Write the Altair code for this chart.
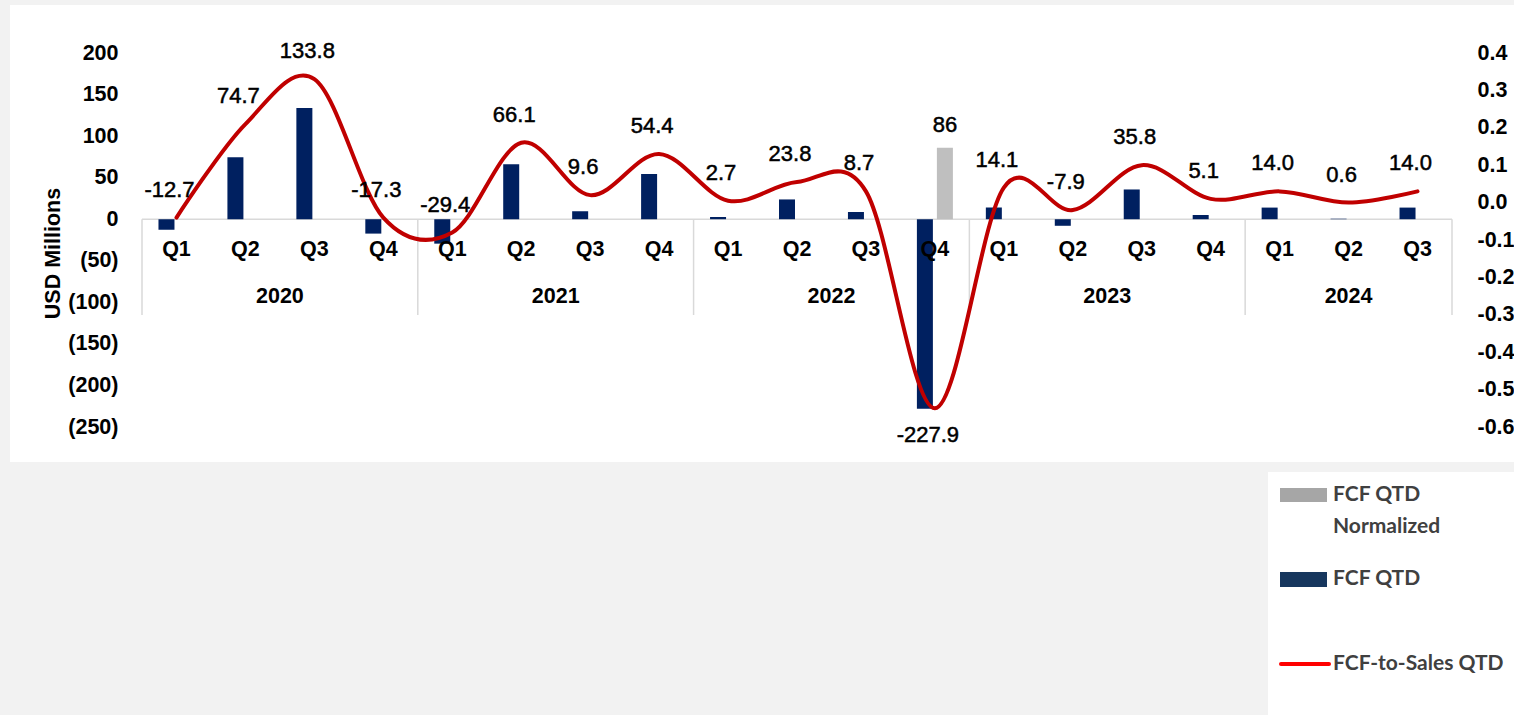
import altair as alt
import pandas as pd

# ---------------- data ----------------
years = ["2020"] * 4 + ["2021"] * 4 + ["2022"] * 4 + ["2023"] * 4 + ["2024"] * 3
quarters = ["Q1", "Q2", "Q3", "Q4"] * 4 + ["Q1", "Q2", "Q3"]
fcf_qtd = [-12.7, 74.7, 133.8, -17.3,
           -29.4, 66.1, 9.6, 54.4,
           2.7, 23.8, 8.7, -227.9,
           14.1, -7.9, 35.8, 5.1,
           14.0, 0.6, 14.0]
fcf_to_sales = [-0.04, 0.21, 0.33, -0.04,
                -0.08, 0.16, 0.02, 0.13,
                0.005, 0.055, 0.03, -0.55,
                0.04, -0.02, 0.10, 0.01,
                0.03, 0.0, 0.03]
normalized_year = "2022"
normalized_quarter = "Q4"
normalized_value = 86

left_ticks = [-250, -200, -150, -100, -50, 0, 50, 100, 150, 200]
right_ticks = [-0.6, -0.5, -0.4, -0.3, -0.2, -0.1, 0.0, 0.1, 0.2, 0.3, 0.4]

legend_labels = ["FCF QTD", "Normalized", "FCF QTD", "FCF-to-Sales QTD"]

# ---------------- tables ----------------
n = len(years)
df = pd.DataFrame({"year": years, "quarter": quarters, "fcf": fcf_qtd, "ratio": fcf_to_sales})
df["idx"] = list(range(n))
df["label"] = [f"{v:.1f}" for v in fcf_qtd]

norm_df = df[(df.year == normalized_year) & (df.quarter == normalized_quarter)][["idx"]].copy()
norm_df["value"] = normalized_value
norm_df["label"] = str(normalized_value)

bounds = [-0.5] + [i - 0.5 for i in range(1, n) if years[i] != years[i - 1]] + [n - 0.5]
bounds_df = pd.DataFrame({"b": bounds})
one = pd.DataFrame({"k": [0]})

FONT = "Liberation Sans"
LFONT = "Lato"
NAVY = "#002060"
GREY = "#bfbfbf"
RED = "#c00000"

xscale = alt.Scale(domain=[-0.5, n - 0.5], nice=False, zero=False, padding=0)
yscale = alt.Scale(domain=[-250, 200], nice=False, zero=False)
rscale = alt.Scale(domain=[-0.6, 0.4], nice=False, zero=False)

yaxis = alt.Axis(
    orient="left", values=left_ticks,
    labelExpr="datum.value < 0 ? '(' + abs(datum.value) + ')' : datum.value + '\u00a0'",
    domain=False, ticks=False, grid=False, labelPadding=24,
    labelFont=FONT, labelFontSize=21.5, labelFontWeight="bold", labelColor="black",
    labelOverlap=False,
    title="USD Millions", titleFont=FONT, titleFontSize=21.5, titleFontWeight="bold",
    titleColor="black", titleX=-89, titleY=200, titleBaseline="middle", titleAlign="center",
    zindex=1,
)
raxis = alt.Axis(
    orient="right", values=right_ticks,
    labelExpr="replace(format(datum.value, '.1f'), '\u2212', '-')",
    domain=False, ticks=False, grid=False, labelPadding=25,
    labelFont=FONT, labelFontSize=21.5, labelFontWeight="bold", labelColor="black",
    labelOverlap=False, title=None, zindex=1,
)

X = alt.X("idx:Q", scale=xscale, axis=None)
Y0 = alt.YDatum(0, scale=yscale, axis=yaxis)

label_style = dict(font=FONT, fontSize=22, fontWeight="normal", color="black",
                   stroke="black", strokeWidth=0.5)

# ---------------- left (USD) group ----------------
panel = alt.Chart(one).mark_rect(color="white").encode(
    x=alt.value(-132), x2=alt.value(1390), y=alt.value(-48), y2=alt.value(409))
legend_panel = alt.Chart(one).mark_rect(color="white").encode(
    x=alt.value(1126), x2=alt.value(1390), y=alt.value(419), y2=alt.value(680))

zero_rule = alt.Chart(one).mark_rule(color="#d9d9d9", strokeWidth=1.5).encode(
    x=alt.XDatum(-0.5, scale=xscale, axis=None), x2=alt.X2Datum(n - 0.5), y=Y0)
sep_rules = alt.Chart(bounds_df).mark_rule(color="#d9d9d9", strokeWidth=1.5).encode(
    x=alt.X("b:Q", scale=xscale, axis=None), y=Y0, y2=alt.value(262))

bars = alt.Chart(df).mark_bar(color=NAVY, width=16, xOffset=-10).encode(
    x=X, y=alt.Y("fcf:Q", scale=yscale, axis=yaxis))
grey_bar = alt.Chart(norm_df).mark_bar(color=GREY, width=16, xOffset=10).encode(
    x=X, y=alt.Y("value:Q", scale=yscale, axis=yaxis))
grey_label = alt.Chart(norm_df).mark_text(dy=-23, xOffset=10, **label_style).encode(
    x=X, y=alt.Y("value:Q", scale=yscale, axis=yaxis), text="label:N")

q_labels = alt.Chart(df).mark_text(
    dy=31, font=FONT, fontSize=21.5, fontWeight="bold", color="black").encode(
    x=X, y=Y0, text="quarter:N")
y_labels = alt.Chart(df).transform_aggregate(
    center="mean(idx)", groupby=["year"]).mark_text(
    dy=78, font=FONT, fontSize=21.5, fontWeight="bold", color="black").encode(
    x=alt.X("center:Q", scale=xscale, axis=None), y=Y0, text="year:N")

# legend (drawn as decoration)
lg_grey = alt.Chart(one).mark_rect(color="#a6a6a6").encode(
    x=alt.value(1138), x2=alt.value(1185), y=alt.value(435), y2=alt.value(449))
lg_navy = alt.Chart(one).mark_rect(color="#17375e").encode(
    x=alt.value(1138), x2=alt.value(1185), y=alt.value(519), y2=alt.value(534))
lg_red = alt.Chart(one).mark_rule(color="#ff0000", strokeWidth=4, strokeCap="round").encode(
    x=alt.value(1139), x2=alt.value(1187), y=alt.value(611))
lg_txt_style = dict(font=LFONT, fontSize=21, fontWeight="bold", color="#404040",
                    align="left", baseline="middle")
lg_t1 = alt.Chart(one).mark_text(text=legend_labels[0], **lg_txt_style).encode(
    x=alt.value(1191), y=alt.value(442))
lg_t2 = alt.Chart(one).mark_text(text=legend_labels[1], **lg_txt_style).encode(
    x=alt.value(1191), y=alt.value(474))
lg_t3 = alt.Chart(one).mark_text(text=legend_labels[2], **lg_txt_style).encode(
    x=alt.value(1191), y=alt.value(526))
lg_t4 = alt.Chart(one).mark_text(text=legend_labels[3], **lg_txt_style).encode(
    x=alt.value(1191), y=alt.value(611))

left = alt.layer(panel, legend_panel, zero_rule, sep_rules, bars, grey_bar, grey_label,
                 q_labels, y_labels, lg_grey, lg_navy, lg_red, lg_t1, lg_t2, lg_t3, lg_t4)

# ---------------- right (ratio) group ----------------
YR = alt.Y("ratio:Q", scale=rscale, axis=raxis)
line = alt.Chart(df).mark_line(color=RED, strokeWidth=4, interpolate="cardinal",
                               strokeCap="round").encode(x=X, y=YR)
v_labels = alt.Chart(df).transform_filter("datum.fcf > -100").mark_text(
    dx=-7, dy=-28, **label_style).encode(x=X, y=YR, text="label:N")
v_labels_low = alt.Chart(df).transform_filter("datum.fcf <= -100").mark_text(
    dx=-7, dy=27, **label_style).encode(x=X, y=YR, text="label:N")

right = alt.layer(line, v_labels, v_labels_low)

chart = alt.layer(left, right).resolve_scale(y="independent").properties(
    width=1310, height=374,
    autosize=alt.AutoSizeParams(type="none"),
    padding={"left": 142, "top": 53, "right": 62, "bottom": 288},
    background="#f2f2f2",
).configure_view(stroke=None)

chart.save("out.html", embed_options={"renderer": "svg", "actions": False})
